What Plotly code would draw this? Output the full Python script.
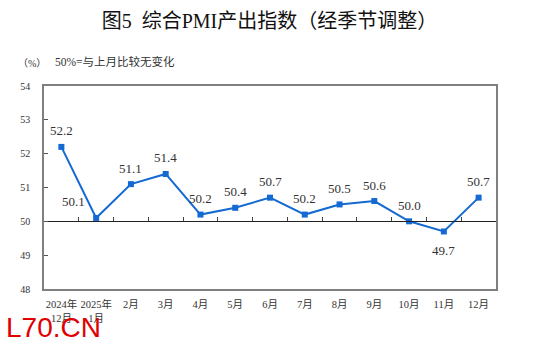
import numpy as np
import plotly.graph_objects as go

# Composite PMI output index, seasonally adjusted
months = ["2024年<br>12月", "2025年<br>1月", "2月", "3月", "4月", "5月", "6月",
          "7月", "8月", "9月", "10月", "11月", "12月"]
pmi = [52.2, 50.1, 51.1, 51.4, 50.2, 50.4, 50.7, 50.2, 50.5, 50.6, 50.0, 49.7, 50.7]
y_ticks = [48, 49, 50, 51, 52, 53, 54]

BLUE = "#1469D2"
FRAME = "#7f7f7f"
SERIF_CJK = "Liberation Serif, Noto Sans CJK SC"

fig = go.Figure()
fig.add_trace(go.Scatter(
    x=months, y=pmi, mode="lines+markers",
    line=dict(color=BLUE, width=2),
    marker=dict(symbol="square", size=6, color=BLUE),
    cliponaxis=False, hoverinfo="skip", showlegend=False,
))

# value labels: above each point, below the lowest one, nudged left where the line climbs
low = pmi.index(min(pmi))
labels = []
for i, (m, v) in enumerate(zip(months, pmi)):
    dy = -19 if i == low else 16
    dx = -23 if i == 1 else 0
    labels.append(dict(x=m, y=v, text=f"{v:.1f}", showarrow=False,
                       xshift=dx, yshift=dy, xanchor="center", yanchor="middle",
                       font=dict(family="Liberation Serif", size=13, color="#333333")))

n = len(months)
fig.update_layout(
    width=539, height=348,
    margin=dict(l=44, r=43, t=86, b=59),
    paper_bgcolor="white", plot_bgcolor="white",
    font=dict(family=SERIF_CJK, color="#222222"),
    title=dict(text="图5  综合PMI产出指数（经季节调整）",
               x=0.5, xanchor="center", y=1 - 21 / 348, yanchor="middle",
               font=dict(family=SERIF_CJK, size=20, color="#111111")),
    xaxis=dict(
        type="category", range=[-0.5, n - 0.5],
        showline=True, linecolor=FRAME, linewidth=1.5, mirror=True,
        showgrid=False, ticks="", tickangle=0, ticklabelstandoff=5,
        tickfont=dict(family=SERIF_CJK, size=10.5, color="#333333"),
    ),
    # reference line at 50 carrying the month dividers
    xaxis2=dict(
        overlaying="x", anchor="free", position=(50 - y_ticks[0]) / (y_ticks[-1] - y_ticks[0]),
        range=[-0.5, n - 0.5], showline=True, linecolor="#222222", linewidth=1.2,
        showgrid=False, ticks="inside", ticklen=4, tickcolor="#444444", tickwidth=1,
        tickvals=list(np.arange(n - 1) + 0.5), showticklabels=False, zeroline=False,
    ),
    yaxis=dict(
        range=[y_ticks[0], y_ticks[-1]], tickvals=y_ticks,
        showline=True, linecolor=FRAME, linewidth=1.5, mirror=True,
        showgrid=False, zeroline=False, ticks="inside", ticklen=4,
        tickcolor="#555555", ticklabelstandoff=10,
        tickfont=dict(family="Liberation Serif", size=10, color="#333333"),
    ),
    annotations=labels + [
        dict(text="（%）", xref="paper", yref="paper", x=-12 / 452, y=1 + 22 / 203,
             xanchor="center", yanchor="middle", showarrow=False,
             font=dict(family=SERIF_CJK, size=10, color="#333333")),
        dict(text="50%=与上月比较无变化", xref="paper", yref="paper", x=9 / 452,
             y=1 + 24 / 203, xanchor="left", yanchor="middle", showarrow=False,
             font=dict(family=SERIF_CJK, size=11.5, color="#333333")),
        dict(text="L70.CN", xref="paper", yref="paper", x=-40 / 452, y=-21 / 203,
             xanchor="left", yanchor="top", showarrow=False,
             font=dict(family="Liberation Sans", size=28, color="#E00000")),
    ],
)
# invisible carrier so xaxis2 is rendered
fig.add_trace(go.Scatter(x=[0], y=[50], xaxis="x2", mode="markers",
                         marker=dict(opacity=0), hoverinfo="skip", showlegend=False))

fig.write_html("out.html")
